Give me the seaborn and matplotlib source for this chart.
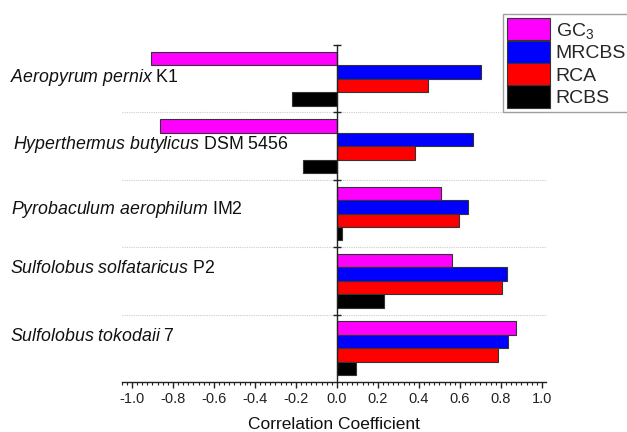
import numpy as np
import pandas as pd
import matplotlib
matplotlib.use('Agg')
import matplotlib.pyplot as plt
import matplotlib.transforms as mtransforms
from matplotlib.ticker import MultipleLocator, FormatStrFormatter
from matplotlib.patches import Patch
import seaborn as sns

# data
species = [r'$\mathit{Aeropyrum\ pernix}$ K1',
           r'$\mathit{Hyperthermus\ butylicus}$ DSM 5456',
           r'$\mathit{Pyrobaculum\ aerophilum}$ IM2',
           r'$\mathit{Sulfolobus\ solfataricus}$ P2',
           r'$\mathit{Sulfolobus\ tokodaii}$ 7']
series = ['GC3', 'MRCBS', 'RCA', 'RCBS']
series_labels = [r'GC$_3$', 'MRCBS', 'RCA', 'RCBS']
gc3 = [-0.908, -0.863, 0.508, 0.562, 0.873]
mrcbs = [0.703, 0.662, 0.641, 0.832, 0.834]
rca = [0.443, 0.383, 0.594, 0.803, 0.785]
rcbs = [-0.217, -0.165, 0.024, 0.232, 0.094]
colors = ['#ff00ff', '#0000ff', '#ff0000', '#000000']

# small nudges of the species labels (x in pixels, y in data units upward)
label_dx = [10, 13, 11, 10, 10]
label_nudge = [0.02, 0.03, 0.06, 0.18, 0.18]

sns.set_style('white')
plt.rcParams['font.family'] = ['Liberation Sans', 'DejaVu Sans']
plt.rcParams['mathtext.fontset'] = 'custom'
plt.rcParams['mathtext.rm'] = 'Liberation Sans'
plt.rcParams['mathtext.it'] = 'Liberation Sans:italic'
plt.rcParams['axes.unicode_minus'] = False

df = pd.DataFrame({
    'species': np.repeat(species, len(series)),
    'series': series * len(species),
    'value': np.ravel(np.column_stack([gc3, mrcbs, rca, rcbs])),
})

fig = plt.figure(figsize=(6.27, 4.32), dpi=100)
ax = fig.add_axes([121.7 / 627, 50 / 432, 424.3 / 627, 337 / 432])

sns.barplot(data=df, x='value', y='species', hue='series', orient='h',
            palette=colors, hue_order=series, order=species, errorbar=None,
            saturation=1, width=0.8, edgecolor='#333333', linewidth=0.8, ax=ax)
ax.get_legend().remove()

ax.set_xlim(-1.05, 1.02)
ax.set_ylim(len(species) - 0.5, -0.5)

# dotted separators between groups
for i in range(len(species) - 1):
    ax.axhline(i + 0.5, color='#cccccc', linestyle=(0, (1, 1)), linewidth=0.8, zorder=0)

for side in ['top', 'right']:
    ax.spines[side].set_visible(False)
ax.spines['left'].set_position(('data', 0))
ax.spines['left'].set_color('#222222')
ax.spines['bottom'].set_color('#222222')
ax.spines['left'].set_linewidth(1.0)
ax.spines['bottom'].set_linewidth(1.0)

ax.xaxis.set_major_locator(MultipleLocator(0.2))
ax.xaxis.set_minor_locator(MultipleLocator(0.025))
ax.xaxis.set_major_formatter(FormatStrFormatter('%.1f'))
ax.tick_params(axis='x', which='both', bottom=True)
ax.tick_params(axis='x', which='major', direction='out', length=4, width=1,
               pad=3.5, labelsize=10.5, colors='#222222')
ax.tick_params(axis='x', which='minor', direction='out', length=2.2, width=0.8,
               colors='#222222')
ax.set_yticks(np.arange(-0.5, len(species) - 1))
ax.set_yticklabels([])
ax.tick_params(axis='y', which='major', direction='inout', length=5.5, width=1,
               colors='#222222', left=True)
ax.set_xlabel('Correlation Coefficient', fontsize=12.5, labelpad=7.5, color='#111111')
ax.set_ylabel('')

# species names, left aligned near the figure edge
trans = mtransforms.blended_transform_factory(fig.transFigure, ax.transData)
for i, name in enumerate(species):
    ax.text(label_dx[i] / 627, i - label_nudge[i], name, transform=trans, ha='left',
            va='center', fontsize=12.8, color='#111111')

handles = [Patch(facecolor=c, edgecolor='#333333', linewidth=0.8) for c in colors]
fig.legend(handles, series_labels, loc='upper left',
           bbox_to_anchor=(503 / 627, 1 - 14 / 432), fontsize=14,
           frameon=True, fancybox=False, edgecolor='#888888',
           handlelength=2.2, handleheight=1.4, handletextpad=0.3,
           labelspacing=0.0, borderpad=0.2, borderaxespad=0)

fig.savefig('out.png', dpi=100)
